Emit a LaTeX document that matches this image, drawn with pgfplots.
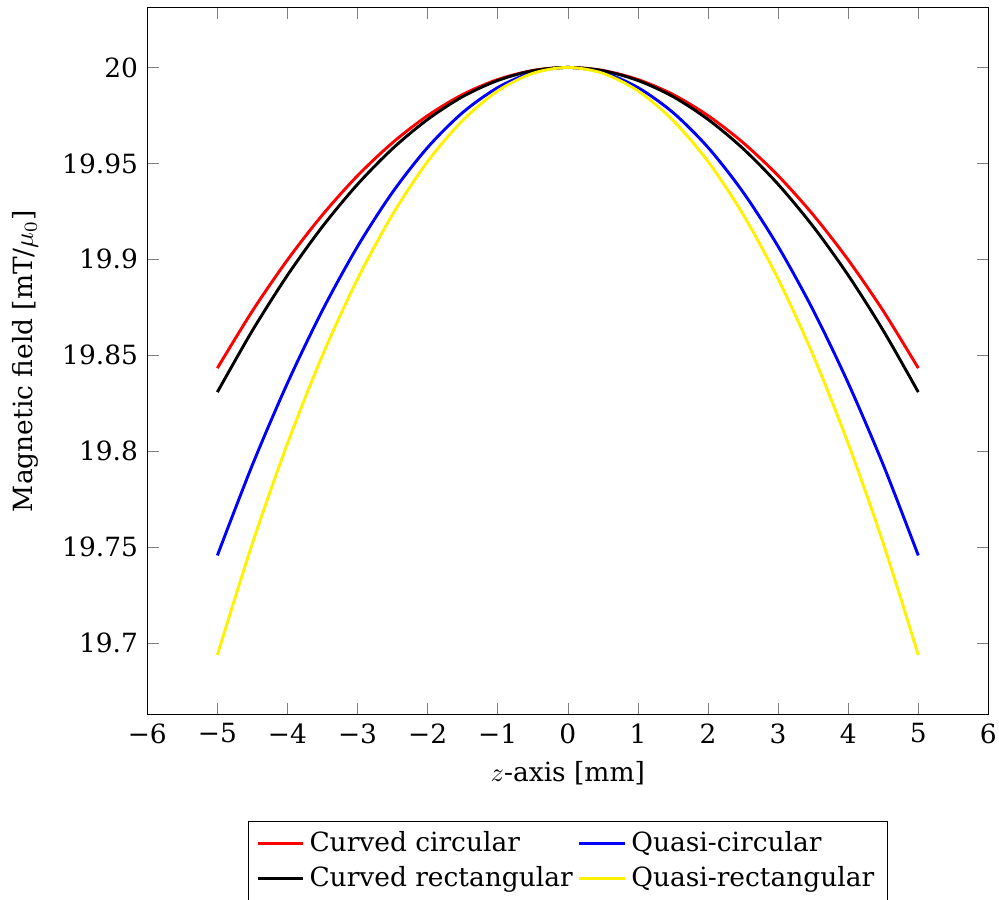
\documentclass[border={1.5pt -1pt -2.5pt 0pt}]{standalone}
\usepackage{fontspec}
\setmainfont{DejaVu Serif}
\usepackage{pgfplots}
\pgfplotsset{compat=1.18}
\begin{document}
\begin{tikzpicture}
\begin{axis}[
    width=318pt, height=267pt,
    scale only axis,
    xmin=-6, xmax=6,
    ymin=19.663, ymax=20.031,
    xtick={-6,-5,-4,-3,-2,-1,0,1,2,3,4,5,6},
    xticklabels={−6,−5,−4,−3,−2,−1,0,1,2,3,4,5,6},
    ytick={19.7,19.75,19.8,19.85,19.9,19.95,20},
    yticklabels={19.7,19.75,19.8,19.85,19.9,19.95,20},
    xlabel={$z$-axis [mm]},
    ylabel={Magnetic field [mT/$\mu_0$]},
    ylabel style={yshift=2pt},
    legend columns=2,
    legend cell align=left,
    legend style={at={(0.5,-0.151)}, anchor=north},
    every axis plot/.append style={line width=1.1pt, smooth, no markers},
]
\addplot[color=red] coordinates {
    (-5,19.8433)(-4.5,19.8731)(-4,19.8997)(-3.5,19.9232)(-3,19.9436)(-2.5,19.9608)
    (-2,19.9749)(-1.5,19.9859)(-1,19.9937)(-0.5,19.9984)(0,20)
    (0.5,19.9984)(1,19.9937)(1.5,19.9859)(2,19.9749)(2.5,19.9608)(3,19.9436)
    (3.5,19.9232)(4,19.8997)(4.5,19.8731)(5,19.8433)
};
\addplot[color=blue] coordinates {
    (-5,19.7457)(-4.5,19.7929)(-4,19.8355)(-3.5,19.8735)(-3,19.9067)(-2.5,19.9350)
    (-2,19.9583)(-1.5,19.9765)(-1,19.9895)(-0.5,19.9974)(0,20)
    (0.5,19.9974)(1,19.9895)(1.5,19.9765)(2,19.9583)(2.5,19.9350)(3,19.9067)
    (3.5,19.8735)(4,19.8355)(4.5,19.7929)(5,19.7457)
};
\addplot[color=black] coordinates {
    (-5,19.8308)(-4.5,19.8629)(-4,19.8917)(-3.5,19.9171)(-3,19.9391)(-2.5,19.9577)
    (-2,19.9729)(-1.5,19.9848)(-1,19.9932)(-0.5,19.9983)(0,20)
    (0.5,19.9983)(1,19.9932)(1.5,19.9848)(2,19.9729)(2.5,19.9577)(3,19.9391)
    (3.5,19.9171)(4,19.8917)(4.5,19.8629)(5,19.8308)
};
\addplot[color=yellow] coordinates {
    (-5,19.6938)(-4.5,19.7520)(-4,19.8040)(-3.5,19.8500)(-3,19.8898)(-2.5,19.9234)
    (-2,19.9510)(-1.5,19.9724)(-1,19.9878)(-0.5,19.9969)(0,20)
    (0.5,19.9969)(1,19.9878)(1.5,19.9724)(2,19.9510)(2.5,19.9234)(3,19.8898)
    (3.5,19.8500)(4,19.8040)(4.5,19.7520)(5,19.6938)
};
\legend{Curved circular, Quasi-circular, Curved rectangular, Quasi-rectangular}
\end{axis}
\path ([yshift=3pt]current axis.north);
\end{tikzpicture}
\end{document}
